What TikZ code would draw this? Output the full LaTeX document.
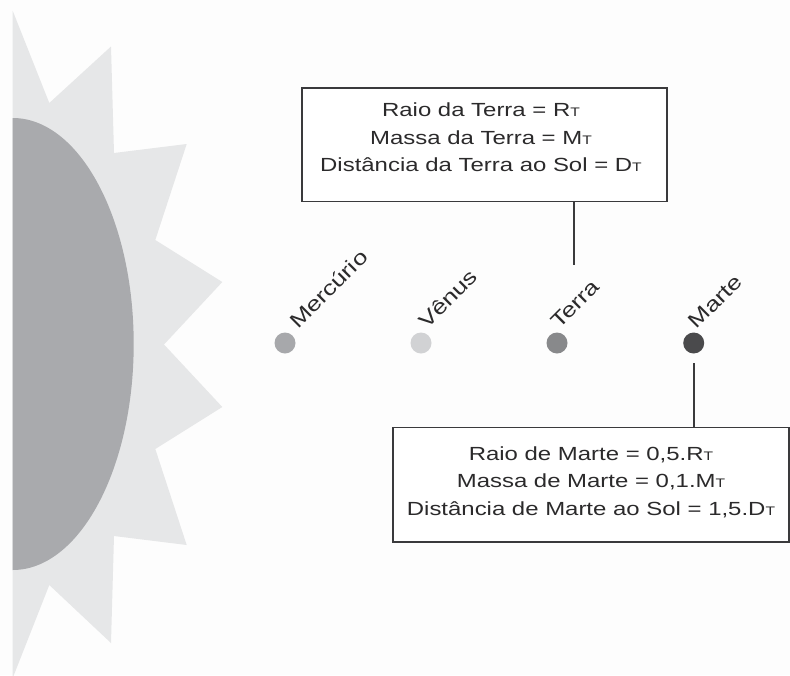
\documentclass[tikz,border=0pt]{standalone}
\usepackage{fontspec}
\setmainfont{Liberation Sans}[FakeStretch=1.26]
\definecolor{bggray}{HTML}{FDFDFD}
\definecolor{raygray}{HTML}{E6E7E8}
\definecolor{sungray}{HTML}{A9AAAD}
\definecolor{inkgray}{HTML}{2B2A2B}
\definecolor{linegray}{HTML}{3A3A3C}
\definecolor{mercurycol}{HTML}{A7A8AB}
\definecolor{venuscol}{HTML}{D1D2D4}
\definecolor{earthcol}{HTML}{88898B}
\definecolor{marscol}{HTML}{4A4A4C}
% small capital used for the Earth subscripts
\newcommand{\smcap}[1]{{\fontsize{12.4}{12}\selectfont #1}}
\begin{document}
\begin{tikzpicture}[x=1pt,y=-1pt,
  connector/.style={draw=linegray, line width=1.6pt},
  infobox/.style={draw=linegray, line width=1.6pt, fill=white, inner sep=0pt},
  infotext/.style={anchor=base, inner sep=0pt, align=center, text=inkgray,
    font=\fontsize{19}{27.5}\selectfont},
  planet/.style={circle, inner sep=0pt, minimum size=21pt},
  pname/.style={rotate=45, anchor=base west, inner sep=0pt, text=inkgray,
    font=\fontsize{20.5}{22}\selectfont}]

% page background
\fill[bggray] (0,0) rectangle (790,675);
\useasboundingbox (0,0) rectangle (790,675);

% the Sun: rays and the visible half disc
\fill[raygray] (12.7,10.8) -- (49.3,103) -- (111,46.5) -- (114,153) -- (186.7,144)
  -- (155.3,240) -- (222.3,282) -- (164,344.5) -- (222.3,407) -- (155.3,449)
  -- (186.7,545) -- (114,536) -- (111,643) -- (49.3,585) -- (12.7,678) -- cycle;
\begin{scope}
  \clip (12.7,0) rectangle (790,675);
  \fill[sungray] (12.7,344) ellipse[x radius=121, y radius=226];
\end{scope}

% planets
\node[planet, fill=mercurycol] (mercurio) at (285,343) {};
\node[planet, fill=venuscol]   (venus)    at (421,343) {};
\node[planet, fill=earthcol]   (terra)    at (557,343) {};
\node[planet, fill=marscol]    (marte)    at (693.7,343) {};

\node[pname] (lmercurio) at ([shift={(13,-13)}]mercurio.center) {Mercúrio};
\node[pname] (lvenus)    at ([shift={(6,-13)}]venus.center)     {Vênus};
\node[pname] (lterra)    at ([shift={(2,-13)}]terra.center)     {Terra};
\node[pname] (lmarte)    at ([shift={(3,-13)}]marte.center)     {Marte};

% Earth data box
\node[infobox, minimum width=365pt, minimum height=113.5pt] (terrabox) at (484.5,144.7) {};
\node[infotext] (terratext) at (481,171.7)
  {Raio da Terra = R\smcap{T}\\
   Massa da Terra = M\smcap{T}\\
   Distância da Terra ao Sol = D\smcap{T}};
\coordinate (terratip) at (573.7,265);
\draw[connector] (terrabox.south -| terratip) -- (terratip);

% Mars data box
\node[infobox, minimum width=396pt, minimum height=114.5pt] (martebox) at (591,484.7) {};
\node[infotext] (martetext) at (591,515)
  {Raio de Marte = 0,5.R\smcap{T}\\
   Massa de Marte = 0,1.M\smcap{T}\\
   Distância de Marte ao Sol = 1,5.D\smcap{T}};
\coordinate (martetip) at (693.7,363);
\draw[connector] (martetip) -- (martetip |- martebox.north);
\end{tikzpicture}
\end{document}
